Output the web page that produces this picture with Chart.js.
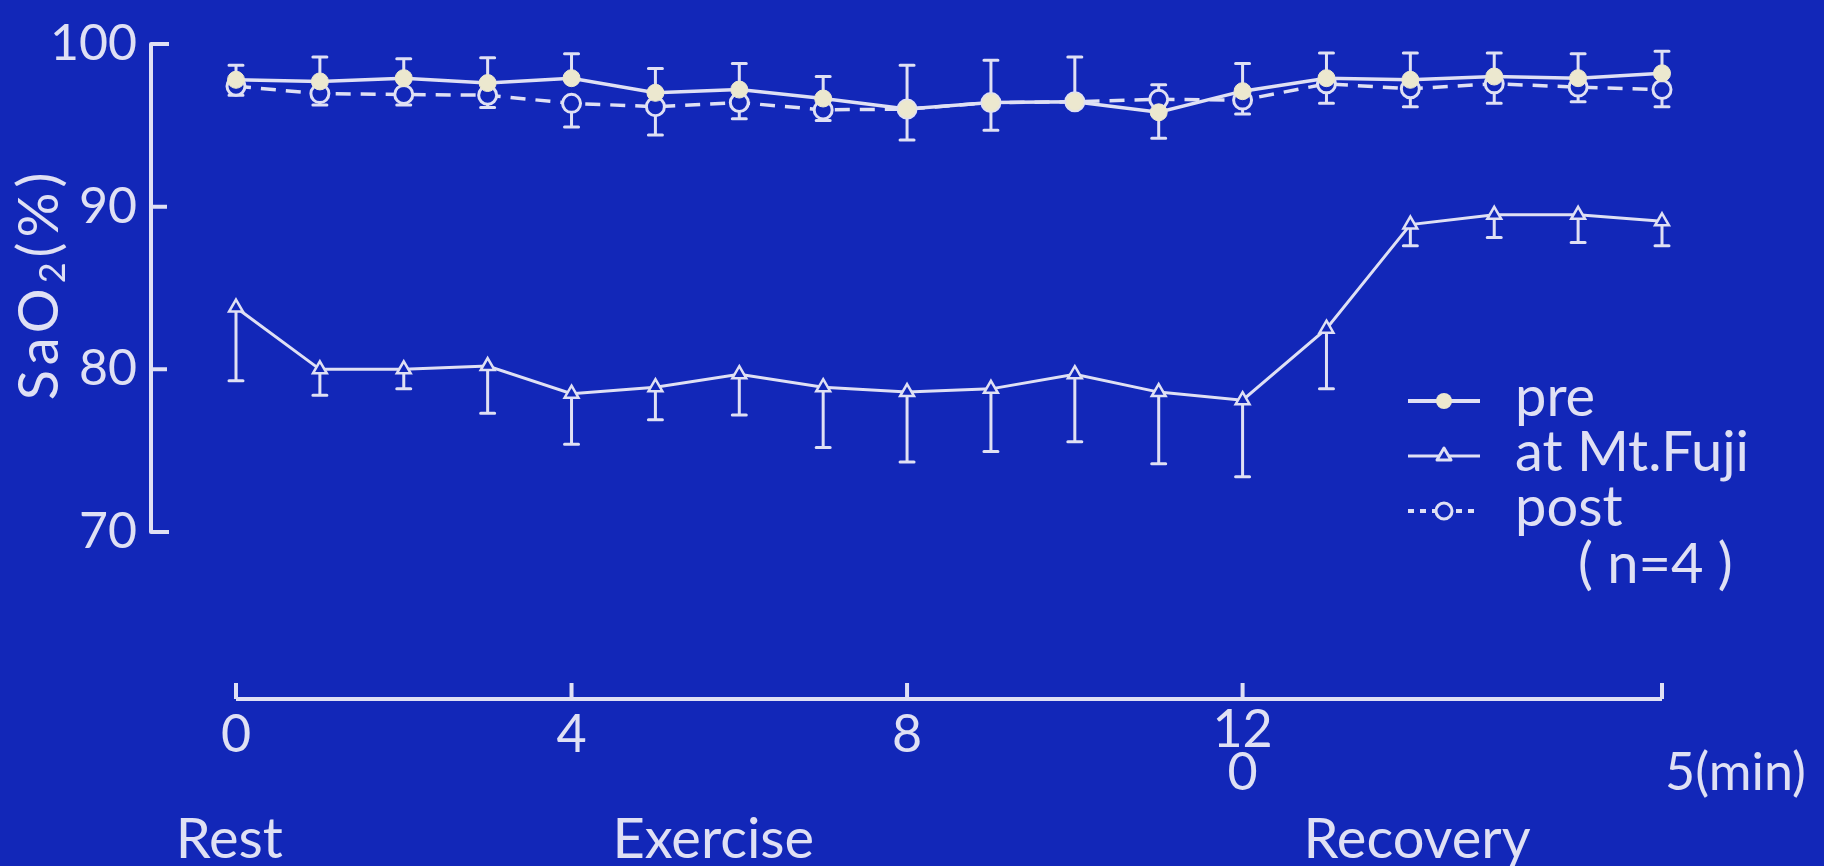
<!DOCTYPE html>
<html>
<head>
<meta charset="utf-8">
<title>SaO2 during rest, exercise and recovery</title>
<script src="https://cdn.jsdelivr.net/npm/chart.js@4.4.1/dist/chart.umd.min.js"></script>
<style>
  html, body { margin: 0; padding: 0; background: #1227b8; }
  #wrap { width: 1824px; height: 866px; position: relative; }
</style>
</head>
<body>
<div id="wrap"><canvas id="c" width="1824" height="866"></canvas></div>
<script>
// Time points: 0-12 min of exercise, then 0-5 min of recovery (plotted as 13-17)
const minutes = [0, 1, 2, 3, 4, 5, 6, 7, 8, 9, 10, 11, 12, 13, 14, 15, 16, 17];

// SaO2 (%) means; the error arrays hold the SD, signed by the side the bar is drawn on
const pre      = [97.8, 97.7, 97.9, 97.6, 97.9, 97.0, 97.2, 96.65, 96.0, 96.4, 96.45, 95.8, 97.1, 97.9, 97.8, 98.0, 97.9, 98.2];
const preErr   = [0.9, 1.5, 1.2, 1.55, 1.5, 1.5, 1.6, 1.35, 2.7, 2.6, 2.75, -1.6, 1.7, 1.55, 1.65, 1.45, 1.5, 1.35];
const fuji     = [83.8, 80.0, 80.0, 80.2, 78.5, 78.9, 79.7, 78.9, 78.6, 78.8, 79.7, 78.6, 78.1, 82.5, 88.9, 89.5, 89.5, 89.1];
const fujiErr  = [-4.5, -1.6, -1.2, -2.9, -3.1, -2.0, -2.5, -3.7, -4.3, -3.85, -4.15, -4.4, -4.7, -3.7, -1.3, -1.4, -1.7, -1.5];
const post     = [97.4, 96.95, 96.9, 96.85, 96.35, 96.15, 96.4, 95.95, 96.0, 96.4, 96.45, 96.6, 96.55, 97.55, 97.25, 97.55, 97.35, 97.2];
const postErr  = [-0.55, -0.7, -0.65, -0.75, -1.45, -1.75, -1.0, -0.65, -1.9, -1.7, -0.3, 0.9, -0.85, -1.2, -1.1, -1.2, -0.9, -1.05];

// Axis ticks and labels
const yTicks = [70, 80, 90, 100];
const xTickValues = [0, 4, 8, 12, 17];
const xTickLabels = ['0', '4', '8', '12', ''];
const recoveryTickValues = [12, 17];
const recoveryTickLabels = ['0', '5(min)'];
const phaseLabels = ['Rest', 'Exercise', 'Recovery'];
const seriesNames = ['pre', 'at Mt.Fuji', 'post'];
const sampleNote = '( n=4 )';

const BG = '#1227b8';
const INK = '#dfe0f4';
const CREAM = '#ece8cf';
const FONT = 'Lato, "Open Sans", "DejaVu Sans", sans-serif';

const toPoints = vals => minutes.map((m, i) => ({ x: m, y: vals[i] }));

// Solid background
const background = {
  id: 'background',
  beforeDraw(chart) {
    const { ctx, width, height } = chart;
    ctx.save();
    ctx.fillStyle = BG;
    ctx.fillRect(0, 0, width, height);
    ctx.restore();
  }
};

// Standard-deviation bars, one side per point
const errorBars = {
  id: 'errorBars',
  beforeDatasetsDraw(chart) {
    const { ctx } = chart;
    const xs = chart.scales.x, ys = chart.scales.y;
    ctx.save();
    ctx.strokeStyle = INK;
    ctx.lineCap = 'round';
    chart.data.datasets.forEach(ds => {
      if (!ds.errors) return;
      ctx.lineWidth = 3;
      ds.data.forEach((p, i) => {
        const e = ds.errors[i];
        if (!e) return;
        const px = xs.getPixelForValue(p.x);
        const y0 = ys.getPixelForValue(p.y);
        const y1 = ys.getPixelForValue(p.y + e);
        ctx.beginPath();
        ctx.moveTo(px, y0);
        ctx.lineTo(px, y1);
        ctx.moveTo(px - 7, y1);
        ctx.lineTo(px + 7, y1);
        ctx.stroke();
      });
    });
    ctx.restore();
  }
};

// Axis frame: y axis with inward ticks, detached time axis below, labels and legend
const frame = {
  id: 'frame',
  afterDraw(chart) {
    const { ctx, chartArea } = chart;
    const xs = chart.scales.x, ys = chart.scales.y;
    ctx.save();
    ctx.strokeStyle = INK;
    ctx.fillStyle = INK;
    ctx.lineWidth = 4;
    ctx.lineCap = 'butt';
    ctx.lineJoin = 'round';

    // y axis
    const ax = chartArea.left;
    ctx.beginPath();
    ctx.moveTo(ax + 18, ys.getPixelForValue(100));
    ctx.lineTo(ax, ys.getPixelForValue(100));
    ctx.lineTo(ax, ys.getPixelForValue(70));
    ctx.lineTo(ax + 18, ys.getPixelForValue(70));
    yTicks.forEach(v => {
      const y = ys.getPixelForValue(v);
      ctx.moveTo(ax, y);
      ctx.lineTo(ax + 16, y);
    });
    ctx.stroke();

    // y axis title SaO2(%) with subscript
    ctx.save();
    ctx.translate(40, (ys.getPixelForValue(100) + ys.getPixelForValue(70)) / 2 - 4);
    ctx.rotate(-Math.PI / 2);
    ctx.textBaseline = 'middle';
    ctx.textAlign = 'left';
    ctx.letterSpacing = '5px';
    const big = '56px ' + FONT, small = '36px ' + FONT;
    ctx.font = big;
    const w1 = ctx.measureText('SaO').width;
    const w3 = ctx.measureText('(%)').width;
    ctx.font = small;
    const w2 = ctx.measureText('2').width;
    let tx = -(w1 + w2 + w3) / 2;
    ctx.font = big;
    ctx.fillText('SaO', tx, 0); tx += w1;
    ctx.font = small;
    ctx.fillText('2', tx, 13); tx += w2;
    ctx.font = big;
    ctx.fillText('(%)', tx, 0);
    ctx.restore();

    // detached time axis
    const axisY = 699;
    ctx.beginPath();
    ctx.moveTo(xs.getPixelForValue(xTickValues[0]), axisY);
    ctx.lineTo(xs.getPixelForValue(xTickValues[xTickValues.length - 1]), axisY);
    xTickValues.forEach(v => {
      const x = xs.getPixelForValue(v);
      ctx.moveTo(x, axisY);
      ctx.lineTo(x, axisY - 16);
    });
    ctx.stroke();

    ctx.font = '52px ' + FONT;
    ctx.textBaseline = 'alphabetic';
    ctx.textAlign = 'center';
    xTickValues.forEach((v, i) => {
      if (!xTickLabels[i]) return;
      const base = xTickLabels[i] === '12' ? 747 : 752;
      ctx.fillText(xTickLabels[i], xs.getPixelForValue(v), base);
    });
    recoveryTickValues.forEach((v, i) => {
      const label = recoveryTickLabels[i];
      const x = xs.getPixelForValue(v);
      if (label.length > 1) {
        ctx.textAlign = 'left';
        ctx.fillText(label, x + 3, 790);
        ctx.textAlign = 'center';
      } else {
        ctx.fillText(label, x, 790);
      }
    });

    // phase names
    ctx.font = '56px ' + FONT;
    const phaseAt = [-0.08, 5.69, 14.08];
    phaseLabels.forEach((t, i) => ctx.fillText(t, xs.getPixelForValue(phaseAt[i]), 858));

    // legend
    const lx0 = 1408, lx1 = 1480, lmid = 1444, tx0 = 1515;
    const rows = [416, 471, 526];
    ctx.font = '56px ' + FONT;
    ctx.textAlign = 'left';
    seriesNames.forEach((name, i) => {
      const base = rows[i];
      const cy = base - 15;
      ctx.lineWidth = i === 1 ? 3 : 4;
      ctx.setLineDash(i === 2 ? [6, 6] : []);
      ctx.beginPath();
      ctx.moveTo(lx0, cy);
      ctx.lineTo(lx1, cy);
      ctx.stroke();
      ctx.setLineDash([]);
      ctx.lineWidth = 3;
      if (i === 0) {
        ctx.fillStyle = CREAM;
        ctx.beginPath(); ctx.arc(lmid, cy, 8, 0, Math.PI * 2); ctx.fill();
      } else if (i === 1) {
        ctx.fillStyle = BG;
        ctx.beginPath();
        ctx.moveTo(lmid, cy - 8); ctx.lineTo(lmid + 7, cy + 4); ctx.lineTo(lmid - 7, cy + 4); ctx.closePath();
        ctx.fill(); ctx.stroke();
      } else {
        ctx.fillStyle = BG;
        ctx.beginPath(); ctx.arc(lmid, cy, 8, 0, Math.PI * 2); ctx.fill(); ctx.stroke();
      }
      ctx.fillStyle = INK;
      ctx.fillText(name, tx0, base);
    });
    ctx.fillText(sampleNote, 1578, 583);
    ctx.restore();
  }
};

new Chart(document.getElementById('c'), {
  type: 'line',
  data: {
    datasets: [
      {
        label: seriesNames[0],
        data: toPoints(pre),
        errors: preErr,
        borderColor: INK,
        borderWidth: 3.5,
        pointStyle: 'circle',
        pointRadius: 8.5,
        pointBackgroundColor: CREAM,
        pointBorderColor: CREAM,
        pointBorderWidth: 1,
        clip: false
      },
      {
        label: seriesNames[1],
        data: toPoints(fuji),
        errors: fujiErr,
        borderColor: INK,
        borderWidth: 3,
        pointStyle: 'triangle',
        pointRadius: 8,
        pointBackgroundColor: BG,
        pointBorderColor: INK,
        pointBorderWidth: 2.5,
        clip: false
      },
      {
        label: seriesNames[2],
        data: toPoints(post),
        errors: postErr,
        borderColor: INK,
        borderWidth: 3.5,
        borderDash: [15, 10],
        pointStyle: 'circle',
        pointRadius: 9,
        pointBackgroundColor: BG,
        pointBorderColor: INK,
        pointBorderWidth: 3,
        clip: false
      }
    ]
  },
  options: {
    responsive: false,
    animation: false,
    devicePixelRatio: 1,
    layout: { padding: { top: 38, bottom: 334, left: 0, right: 162 } },
    plugins: { legend: { display: false }, tooltip: { enabled: false } },
    elements: { line: { tension: 0 } },
    scales: {
      x: { type: 'linear', min: -1.0133, max: 17, display: false },
      y: {
        min: 70, max: 100,
        position: 'left',
        afterFit(scale) { scale.width = 151; },
        grid: { display: false, drawTicks: false },
        border: { display: false },
        ticks: {
          stepSize: 10,
          color: INK,
          padding: 14,
          font: { family: FONT, size: 50 }
        }
      }
    }
  },
  plugins: [background, errorBars, frame]
});
</script>
</body>
</html>
